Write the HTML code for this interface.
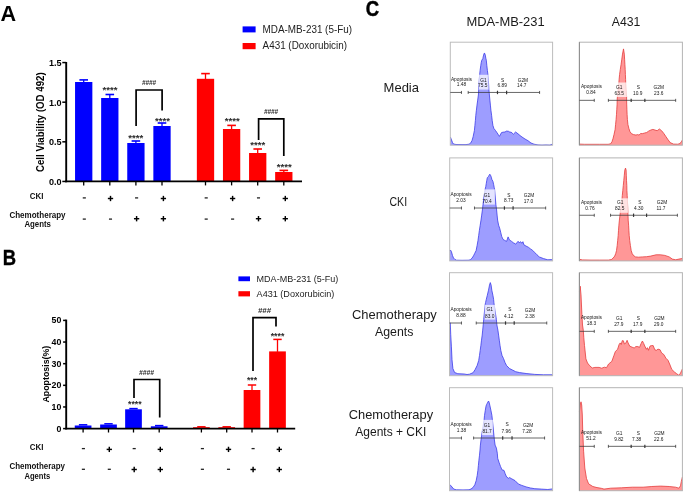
<!DOCTYPE html>
<html><head><meta charset="utf-8"><title>figure</title>
<style>
html,body{margin:0;padding:0;background:#fff;overflow:hidden;}
svg{display:block;will-change:transform;}
text{font-family:"Liberation Sans", sans-serif;}

</style></head>
<body>
<svg width="685" height="493" viewBox="0 0 685 493">
<rect x="0" y="0" width="685" height="493" fill="#fff"/><g class="g">
<text x="0.6" y="21.0" font-size="21.6" font-weight="bold" text-anchor="start" fill="#000">A</text>
<text transform="translate(2.8,264.8) scale(0.83,1)" font-size="22.2" font-weight="bold" stroke="#000" stroke-width="0.4">B</text>
<text transform="translate(365.7,16.35) scale(0.84,1)" font-size="22" font-weight="bold" stroke="#000" stroke-width="0.5">C</text>
<rect x="75.05" y="82.00" width="17.30" height="99.45" fill="#0000ff"/>
<line x1="83.7" y1="79.9" x2="83.7" y2="82.5" stroke="#0000ff" stroke-width="1.3"/>
<line x1="79.4" y1="79.9" x2="88.0" y2="79.9" stroke="#0000ff" stroke-width="1.6"/>
<rect x="101.15" y="98.00" width="17.30" height="83.45" fill="#0000ff"/>
<line x1="109.8" y1="94.5" x2="109.8" y2="98.5" stroke="#0000ff" stroke-width="1.3"/>
<line x1="105.5" y1="94.5" x2="114.1" y2="94.5" stroke="#0000ff" stroke-width="1.6"/>
<rect x="127.25" y="143.00" width="17.30" height="38.45" fill="#0000ff"/>
<line x1="135.9" y1="141.0" x2="135.9" y2="143.5" stroke="#0000ff" stroke-width="1.3"/>
<line x1="131.6" y1="141.0" x2="140.20000000000002" y2="141.0" stroke="#0000ff" stroke-width="1.6"/>
<rect x="153.35" y="126.00" width="17.30" height="55.45" fill="#0000ff"/>
<line x1="162.0" y1="123.0" x2="162.0" y2="126.5" stroke="#0000ff" stroke-width="1.3"/>
<line x1="157.7" y1="123.0" x2="166.3" y2="123.0" stroke="#0000ff" stroke-width="1.6"/>
<rect x="196.85" y="78.80" width="17.30" height="102.65" fill="#ff0000"/>
<line x1="205.5" y1="73.6" x2="205.5" y2="79.3" stroke="#ff0000" stroke-width="1.3"/>
<line x1="201.2" y1="73.6" x2="209.8" y2="73.6" stroke="#ff0000" stroke-width="1.6"/>
<rect x="222.95" y="129.00" width="17.30" height="52.45" fill="#ff0000"/>
<line x1="231.6" y1="125.4" x2="231.6" y2="129.5" stroke="#ff0000" stroke-width="1.3"/>
<line x1="227.29999999999998" y1="125.4" x2="235.9" y2="125.4" stroke="#ff0000" stroke-width="1.6"/>
<rect x="249.05" y="153.00" width="17.30" height="28.45" fill="#ff0000"/>
<line x1="257.7" y1="149.0" x2="257.7" y2="153.5" stroke="#ff0000" stroke-width="1.3"/>
<line x1="253.39999999999998" y1="149.0" x2="262.0" y2="149.0" stroke="#ff0000" stroke-width="1.6"/>
<rect x="275.15" y="172.00" width="17.30" height="9.45" fill="#ff0000"/>
<line x1="283.8" y1="170.4" x2="283.8" y2="172.5" stroke="#ff0000" stroke-width="1.3"/>
<line x1="279.5" y1="170.4" x2="288.1" y2="170.4" stroke="#ff0000" stroke-width="1.6"/>
<line x1="66.2" y1="62.0" x2="66.2" y2="182.25" stroke="#000" stroke-width="1.9"/>
<line x1="65.3" y1="181.45" x2="302" y2="181.45" stroke="#000" stroke-width="1.7"/>
<line x1="62.3" y1="181.45" x2="66.2" y2="181.45" stroke="#000" stroke-width="1.5"/>
<text x="61.6" y="184.75" font-size="9.6" font-weight="bold" text-anchor="end" fill="#000" textLength="12.6" lengthAdjust="spacingAndGlyphs">0.0</text>
<line x1="62.3" y1="141.82" x2="66.2" y2="141.82" stroke="#000" stroke-width="1.5"/>
<text x="61.6" y="145.12" font-size="9.6" font-weight="bold" text-anchor="end" fill="#000" textLength="12.6" lengthAdjust="spacingAndGlyphs">0.5</text>
<line x1="62.3" y1="102.2" x2="66.2" y2="102.2" stroke="#000" stroke-width="1.5"/>
<text x="61.6" y="105.5" font-size="9.6" font-weight="bold" text-anchor="end" fill="#000" textLength="12.6" lengthAdjust="spacingAndGlyphs">1.0</text>
<line x1="62.3" y1="62.57" x2="66.2" y2="62.57" stroke="#000" stroke-width="1.5"/>
<text x="61.6" y="65.87" font-size="9.6" font-weight="bold" text-anchor="end" fill="#000" textLength="12.6" lengthAdjust="spacingAndGlyphs">1.5</text>
<line x1="83.7" y1="181.45" x2="83.7" y2="185.4" stroke="#000" stroke-width="1.3"/>
<line x1="109.8" y1="181.45" x2="109.8" y2="185.4" stroke="#000" stroke-width="1.3"/>
<line x1="135.9" y1="181.45" x2="135.9" y2="185.4" stroke="#000" stroke-width="1.3"/>
<line x1="162.0" y1="181.45" x2="162.0" y2="185.4" stroke="#000" stroke-width="1.3"/>
<line x1="205.5" y1="181.45" x2="205.5" y2="185.4" stroke="#000" stroke-width="1.3"/>
<line x1="231.6" y1="181.45" x2="231.6" y2="185.4" stroke="#000" stroke-width="1.3"/>
<line x1="257.7" y1="181.45" x2="257.7" y2="185.4" stroke="#000" stroke-width="1.3"/>
<line x1="283.8" y1="181.45" x2="283.8" y2="185.4" stroke="#000" stroke-width="1.3"/>
<text transform="translate(43.9,172.0) rotate(-90)" font-size="10.2" font-weight="bold" textLength="99.6" lengthAdjust="spacingAndGlyphs">Cell Viability (OD 492)</text>
<text x="110.0" y="93.4" font-size="9.2" font-weight="bold" text-anchor="middle" fill="#2a2a2a" textLength="15.0" lengthAdjust="spacingAndGlyphs">****</text>
<text x="135.7" y="141.1" font-size="9.2" font-weight="bold" text-anchor="middle" fill="#2a2a2a" textLength="15.0" lengthAdjust="spacingAndGlyphs">****</text>
<text x="162.4" y="123.8" font-size="9.2" font-weight="bold" text-anchor="middle" fill="#2a2a2a" textLength="15.0" lengthAdjust="spacingAndGlyphs">****</text>
<text x="232.2" y="123.9" font-size="9.2" font-weight="bold" text-anchor="middle" fill="#2a2a2a" textLength="15.0" lengthAdjust="spacingAndGlyphs">****</text>
<text x="257.7" y="147.8" font-size="9.2" font-weight="bold" text-anchor="middle" fill="#2a2a2a" textLength="15.0" lengthAdjust="spacingAndGlyphs">****</text>
<text x="284.3" y="169.5" font-size="9.2" font-weight="bold" text-anchor="middle" fill="#2a2a2a" textLength="15.0" lengthAdjust="spacingAndGlyphs">****</text>
<path d="M136.1,126.0 L136.1,90.0 L162.1,90.0 L162.1,110.4" fill="none" stroke="#000" stroke-width="1.7"/>
<path d="M258.6,140.0 L258.6,118.8 L283.8,118.8 L283.8,156.0" fill="none" stroke="#000" stroke-width="1.7"/>
<text x="149.0" y="84.8" font-size="7.6" font-weight="bold" text-anchor="middle" fill="#2a2a2a" textLength="14.2" lengthAdjust="spacingAndGlyphs" font-style="italic">####</text>
<text x="271.0" y="114.3" font-size="7.6" font-weight="bold" text-anchor="middle" fill="#2a2a2a" textLength="14.2" lengthAdjust="spacingAndGlyphs" font-style="italic">####</text>
<rect x="242.60" y="26.40" width="13.00" height="6.00" fill="#0000ff"/>
<rect x="242.60" y="43.00" width="13.00" height="6.20" fill="#ff0000"/>
<text x="262.6" y="32.6" font-size="10.7" text-anchor="start" fill="#222" textLength="89.4" lengthAdjust="spacingAndGlyphs">MDA-MB-231 (5-Fu)</text>
<text x="262.6" y="49.2" font-size="10.7" text-anchor="start" fill="#222" textLength="84.4" lengthAdjust="spacingAndGlyphs">A431 (Doxorubicin)</text>
<text x="29.7" y="199.2" font-size="9.1" font-weight="bold" text-anchor="start" fill="#111" textLength="13.7" lengthAdjust="spacingAndGlyphs">CKI</text>
<text x="9.4" y="217.8" font-size="8.2" font-weight="bold" text-anchor="start" fill="#111" textLength="56.2" lengthAdjust="spacingAndGlyphs">Chemotherapy</text>
<text x="24.4" y="226.7" font-size="8.3" font-weight="bold" text-anchor="start" fill="#111" textLength="26.6" lengthAdjust="spacingAndGlyphs">Agents</text>
<line x1="82.75" y1="197.9" x2="85.85" y2="197.9" stroke="#222" stroke-width="1.3"/>
<line x1="82.75" y1="219.1" x2="85.85" y2="219.1" stroke="#222" stroke-width="1.3"/>
<line x1="107.85" y1="198.5" x2="113.15" y2="198.5" stroke="#000" stroke-width="1.45"/>
<line x1="110.5" y1="195.85" x2="110.5" y2="201.15" stroke="#000" stroke-width="1.45"/>
<line x1="108.95" y1="219.1" x2="112.05" y2="219.1" stroke="#222" stroke-width="1.3"/>
<line x1="135.05" y1="197.9" x2="138.15" y2="197.9" stroke="#222" stroke-width="1.3"/>
<line x1="133.95" y1="218.7" x2="139.25" y2="218.7" stroke="#000" stroke-width="1.45"/>
<line x1="136.6" y1="216.05" x2="136.6" y2="221.35" stroke="#000" stroke-width="1.45"/>
<line x1="160.75" y1="198.5" x2="166.05" y2="198.5" stroke="#000" stroke-width="1.45"/>
<line x1="163.4" y1="195.85" x2="163.4" y2="201.15" stroke="#000" stroke-width="1.45"/>
<line x1="160.75" y1="218.7" x2="166.05" y2="218.7" stroke="#000" stroke-width="1.45"/>
<line x1="163.4" y1="216.05" x2="163.4" y2="221.35" stroke="#000" stroke-width="1.45"/>
<line x1="204.65" y1="197.9" x2="207.75" y2="197.9" stroke="#222" stroke-width="1.3"/>
<line x1="204.65" y1="219.1" x2="207.75" y2="219.1" stroke="#222" stroke-width="1.3"/>
<line x1="229.95" y1="198.5" x2="235.25" y2="198.5" stroke="#000" stroke-width="1.45"/>
<line x1="232.6" y1="195.85" x2="232.6" y2="201.15" stroke="#000" stroke-width="1.45"/>
<line x1="231.05" y1="219.1" x2="234.15" y2="219.1" stroke="#222" stroke-width="1.3"/>
<line x1="256.95" y1="197.9" x2="260.05" y2="197.9" stroke="#222" stroke-width="1.3"/>
<line x1="255.85" y1="218.7" x2="261.15" y2="218.7" stroke="#000" stroke-width="1.45"/>
<line x1="258.5" y1="216.05" x2="258.5" y2="221.35" stroke="#000" stroke-width="1.45"/>
<line x1="282.65" y1="198.5" x2="287.95" y2="198.5" stroke="#000" stroke-width="1.45"/>
<line x1="285.3" y1="195.85" x2="285.3" y2="201.15" stroke="#000" stroke-width="1.45"/>
<line x1="282.65" y1="218.7" x2="287.95" y2="218.7" stroke="#000" stroke-width="1.45"/>
<line x1="285.3" y1="216.05" x2="285.3" y2="221.35" stroke="#000" stroke-width="1.45"/>
<rect x="74.75" y="425.50" width="16.70" height="3.10" fill="#0000ff"/>
<line x1="78.89999999999999" y1="424.8" x2="87.3" y2="424.8" stroke="#0000ff" stroke-width="1.5"/>
<rect x="100.15" y="424.50" width="16.70" height="4.10" fill="#0000ff"/>
<line x1="104.3" y1="423.8" x2="112.7" y2="423.8" stroke="#0000ff" stroke-width="1.5"/>
<rect x="125.15" y="409.30" width="16.70" height="19.30" fill="#0000ff"/>
<line x1="129.3" y1="408.6" x2="137.7" y2="408.6" stroke="#0000ff" stroke-width="1.5"/>
<rect x="150.85" y="426.30" width="16.70" height="2.30" fill="#0000ff"/>
<line x1="155.0" y1="425.6" x2="163.39999999999998" y2="425.6" stroke="#0000ff" stroke-width="1.5"/>
<rect x="193.05" y="427.20" width="16.70" height="1.40" fill="#ff0000"/>
<line x1="197.20000000000002" y1="426.8" x2="205.6" y2="426.8" stroke="#ff0000" stroke-width="1.5"/>
<rect x="218.35" y="427.20" width="16.70" height="1.40" fill="#ff0000"/>
<line x1="222.5" y1="426.8" x2="230.89999999999998" y2="426.8" stroke="#ff0000" stroke-width="1.5"/>
<rect x="243.65" y="390.00" width="16.70" height="38.60" fill="#ff0000"/>
<line x1="252.0" y1="385.0" x2="252.0" y2="390.5" stroke="#ff0000" stroke-width="1.3"/>
<line x1="247.8" y1="385.0" x2="256.2" y2="385.0" stroke="#ff0000" stroke-width="1.5"/>
<rect x="269.15" y="351.40" width="16.70" height="77.20" fill="#ff0000"/>
<line x1="277.5" y1="339.4" x2="277.5" y2="351.9" stroke="#ff0000" stroke-width="1.3"/>
<line x1="273.3" y1="339.4" x2="281.7" y2="339.4" stroke="#ff0000" stroke-width="1.5"/>
<line x1="66.2" y1="319.6" x2="66.2" y2="429.40000000000003" stroke="#000" stroke-width="1.9"/>
<line x1="65.3" y1="428.6" x2="295.2" y2="428.6" stroke="#000" stroke-width="1.7"/>
<line x1="63.1" y1="428.6" x2="66.2" y2="428.6" stroke="#000" stroke-width="1.5"/>
<text x="61.3" y="431.5" font-size="8.8" font-weight="bold" text-anchor="end" fill="#000">0</text>
<line x1="63.1" y1="406.96" x2="66.2" y2="406.96" stroke="#000" stroke-width="1.5"/>
<text x="61.3" y="409.86" font-size="8.8" font-weight="bold" text-anchor="end" fill="#000">10</text>
<line x1="63.1" y1="385.32" x2="66.2" y2="385.32" stroke="#000" stroke-width="1.5"/>
<text x="61.3" y="388.22" font-size="8.8" font-weight="bold" text-anchor="end" fill="#000">20</text>
<line x1="63.1" y1="363.68" x2="66.2" y2="363.68" stroke="#000" stroke-width="1.5"/>
<text x="61.3" y="366.58" font-size="8.8" font-weight="bold" text-anchor="end" fill="#000">30</text>
<line x1="63.1" y1="342.04" x2="66.2" y2="342.04" stroke="#000" stroke-width="1.5"/>
<text x="61.3" y="344.94" font-size="8.8" font-weight="bold" text-anchor="end" fill="#000">40</text>
<line x1="63.1" y1="320.4" x2="66.2" y2="320.4" stroke="#000" stroke-width="1.5"/>
<text x="61.3" y="323.3" font-size="8.8" font-weight="bold" text-anchor="end" fill="#000">50</text>
<line x1="83.1" y1="428.6" x2="83.1" y2="432.5" stroke="#000" stroke-width="1.3"/>
<line x1="108.5" y1="428.6" x2="108.5" y2="432.5" stroke="#000" stroke-width="1.3"/>
<line x1="133.5" y1="428.6" x2="133.5" y2="432.5" stroke="#000" stroke-width="1.3"/>
<line x1="159.2" y1="428.6" x2="159.2" y2="432.5" stroke="#000" stroke-width="1.3"/>
<line x1="201.4" y1="428.6" x2="201.4" y2="432.5" stroke="#000" stroke-width="1.3"/>
<line x1="226.7" y1="428.6" x2="226.7" y2="432.5" stroke="#000" stroke-width="1.3"/>
<line x1="252.0" y1="428.6" x2="252.0" y2="432.5" stroke="#000" stroke-width="1.3"/>
<line x1="277.5" y1="428.6" x2="277.5" y2="432.5" stroke="#000" stroke-width="1.3"/>
<text transform="translate(48.5,402.6) rotate(-90)" font-size="9.6" font-weight="bold" textLength="56.9" lengthAdjust="spacingAndGlyphs">Apoptosis(%)</text>
<text x="134.8" y="407.3" font-size="9.2" font-weight="bold" text-anchor="middle" fill="#2a2a2a" textLength="13.5" lengthAdjust="spacingAndGlyphs">****</text>
<text x="252.0" y="383.1" font-size="9.2" font-weight="bold" text-anchor="middle" fill="#2a2a2a" textLength="10.2" lengthAdjust="spacingAndGlyphs">***</text>
<text x="277.5" y="338.5" font-size="9.2" font-weight="bold" text-anchor="middle" fill="#2a2a2a" textLength="13.6" lengthAdjust="spacingAndGlyphs">****</text>
<path d="M134.0,398.0 L134.0,379.5 L159.7,379.5 L159.7,417.6" fill="none" stroke="#000" stroke-width="1.7"/>
<path d="M253.0,371.0 L253.0,317.6 L276.0,317.6 L276.0,326.6" fill="none" stroke="#000" stroke-width="1.7"/>
<text x="146.6" y="375.3" font-size="7.6" font-weight="bold" text-anchor="middle" fill="#2a2a2a" textLength="15.0" lengthAdjust="spacingAndGlyphs" font-style="italic">####</text>
<text x="264.5" y="312.6" font-size="7.6" font-weight="bold" text-anchor="middle" fill="#2a2a2a" textLength="13.0" lengthAdjust="spacingAndGlyphs" font-style="italic">###</text>
<rect x="238.40" y="276.40" width="11.60" height="4.80" fill="#0000ff"/>
<rect x="238.40" y="291.20" width="11.60" height="5.20" fill="#ff0000"/>
<text x="256.6" y="281.7" font-size="9.9" text-anchor="start" fill="#222" textLength="81.7" lengthAdjust="spacingAndGlyphs">MDA-MB-231 (5-Fu)</text>
<text x="256.6" y="296.8" font-size="9.9" text-anchor="start" fill="#222" textLength="77.8" lengthAdjust="spacingAndGlyphs">A431 (Doxorubicin)</text>
<text x="29.7" y="450.3" font-size="9.1" font-weight="bold" text-anchor="start" fill="#111" textLength="13.7" lengthAdjust="spacingAndGlyphs">CKI</text>
<text x="9.4" y="468.6" font-size="8.2" font-weight="bold" text-anchor="start" fill="#111" textLength="55.6" lengthAdjust="spacingAndGlyphs">Chemotherapy</text>
<text x="24.4" y="478.5" font-size="8.2" font-weight="bold" text-anchor="start" fill="#111" textLength="25.8" lengthAdjust="spacingAndGlyphs">Agents</text>
<line x1="81.85" y1="448.6" x2="84.95" y2="448.6" stroke="#222" stroke-width="1.3"/>
<line x1="81.85" y1="469.3" x2="84.95" y2="469.3" stroke="#222" stroke-width="1.3"/>
<line x1="106.65" y1="449.4" x2="111.95" y2="449.4" stroke="#000" stroke-width="1.45"/>
<line x1="109.3" y1="446.75" x2="109.3" y2="452.05" stroke="#000" stroke-width="1.45"/>
<line x1="107.75" y1="469.3" x2="110.85" y2="469.3" stroke="#222" stroke-width="1.3"/>
<line x1="132.65" y1="448.6" x2="135.75" y2="448.6" stroke="#222" stroke-width="1.3"/>
<line x1="131.55" y1="469.5" x2="136.85" y2="469.5" stroke="#000" stroke-width="1.45"/>
<line x1="134.2" y1="466.85" x2="134.2" y2="472.15" stroke="#000" stroke-width="1.45"/>
<line x1="157.65" y1="449.4" x2="162.95" y2="449.4" stroke="#000" stroke-width="1.45"/>
<line x1="160.3" y1="446.75" x2="160.3" y2="452.05" stroke="#000" stroke-width="1.45"/>
<line x1="157.65" y1="469.5" x2="162.95" y2="469.5" stroke="#000" stroke-width="1.45"/>
<line x1="160.3" y1="466.85" x2="160.3" y2="472.15" stroke="#000" stroke-width="1.45"/>
<line x1="200.85" y1="448.6" x2="203.95" y2="448.6" stroke="#222" stroke-width="1.3"/>
<line x1="200.85" y1="469.3" x2="203.95" y2="469.3" stroke="#222" stroke-width="1.3"/>
<line x1="225.85" y1="449.4" x2="231.15" y2="449.4" stroke="#000" stroke-width="1.45"/>
<line x1="228.5" y1="446.75" x2="228.5" y2="452.05" stroke="#000" stroke-width="1.45"/>
<line x1="226.95" y1="469.3" x2="230.05" y2="469.3" stroke="#222" stroke-width="1.3"/>
<line x1="251.55" y1="448.6" x2="254.65" y2="448.6" stroke="#222" stroke-width="1.3"/>
<line x1="250.45" y1="469.5" x2="255.75" y2="469.5" stroke="#000" stroke-width="1.45"/>
<line x1="253.1" y1="466.85" x2="253.1" y2="472.15" stroke="#000" stroke-width="1.45"/>
<line x1="276.65" y1="449.4" x2="281.95" y2="449.4" stroke="#000" stroke-width="1.45"/>
<line x1="279.3" y1="446.75" x2="279.3" y2="452.05" stroke="#000" stroke-width="1.45"/>
<line x1="276.65" y1="469.5" x2="281.95" y2="469.5" stroke="#000" stroke-width="1.45"/>
<line x1="279.3" y1="466.85" x2="279.3" y2="472.15" stroke="#000" stroke-width="1.45"/>
<text x="466.4" y="26.3" font-size="12.4" text-anchor="start" fill="#1a1a1a" textLength="78.3" lengthAdjust="spacingAndGlyphs">MDA-MB-231</text>
<text x="611.8" y="26.3" font-size="12.4" text-anchor="start" fill="#1a1a1a" textLength="28.6" lengthAdjust="spacingAndGlyphs">A431</text>
<text x="383.6" y="92.0" font-size="12.8" text-anchor="start" fill="#1a1a1a" textLength="35.4" lengthAdjust="spacingAndGlyphs">Media</text>
<text x="389.5" y="206.2" font-size="12.6" text-anchor="start" fill="#1a1a1a" textLength="17.6" lengthAdjust="spacingAndGlyphs">CKI</text>
<text x="352.0" y="319.2" font-size="12.8" text-anchor="start" fill="#1a1a1a" textLength="84.8" lengthAdjust="spacingAndGlyphs">Chemotherapy</text>
<text x="375.0" y="335.8" font-size="12.8" text-anchor="start" fill="#1a1a1a" textLength="38.4" lengthAdjust="spacingAndGlyphs">Agents</text>
<text x="348.8" y="419.3" font-size="12.8" text-anchor="start" fill="#1a1a1a" textLength="84.3" lengthAdjust="spacingAndGlyphs">Chemotherapy</text>
<text x="355.3" y="436.1" font-size="12.8" text-anchor="start" fill="#1a1a1a" textLength="71.1" lengthAdjust="spacingAndGlyphs">Agents + CKI</text>
<path d="M450.30,145.20 L450.40,137.00 L451.50,140.00 L452.50,142.50 L453.50,144.00 L456.00,144.50 L462.00,144.60 L466.00,144.60 L469.00,144.20 L470.60,143.20 L472.10,140.40 L473.20,136.40 L474.40,130.50 L474.90,125.40 L475.40,120.40 L475.80,115.30 L476.40,110.20 L477.00,105.10 L477.70,100.10 L478.40,95.00 L478.70,89.60 L479.20,80.50 L479.70,74.40 L480.10,70.40 L480.80,65.30 L481.30,62.20 L481.80,60.20 L482.80,58.70 L483.10,57.20 L483.60,55.10 L484.30,53.10 L484.50,53.10 L485.30,55.10 L485.80,58.20 L486.30,60.20 L486.80,65.30 L487.40,70.40 L487.90,74.40 L488.40,80.50 L488.90,89.60 L489.40,95.00 L489.90,100.10 L490.40,105.10 L490.90,110.20 L491.60,115.30 L492.20,120.40 L492.90,125.40 L493.90,128.50 L495.50,130.50 L498.00,134.20 L499.40,136.40 L501.50,132.60 L503.00,132.20 L505.00,132.00 L506.50,131.10 L508.50,131.30 L510.00,132.30 L511.00,132.00 L513.40,134.20 L515.60,132.00 L518.00,133.80 L520.00,135.50 L522.00,137.00 L525.00,139.00 L528.00,140.70 L531.00,143.00 L534.00,144.20 L538.00,144.90 L542.00,145.10 L546.00,144.90 L550.00,145.10 L552.60,144.00 L552.60,145.20 Z" fill="#9d9dff" stroke="none"/>
<path d="M450.40,137.00 L451.50,140.00 L452.50,142.50 L453.50,144.00 L456.00,144.50 L462.00,144.60 L466.00,144.60 L469.00,144.20 L470.60,143.20 L472.10,140.40 L473.20,136.40 L474.40,130.50 L474.90,125.40 L475.40,120.40 L475.80,115.30 L476.40,110.20 L477.00,105.10 L477.70,100.10 L478.40,95.00 L478.70,89.60 L479.20,80.50 L479.70,74.40 L480.10,70.40 L480.80,65.30 L481.30,62.20 L481.80,60.20 L482.80,58.70 L483.10,57.20 L483.60,55.10 L484.30,53.10 L484.50,53.10 L485.30,55.10 L485.80,58.20 L486.30,60.20 L486.80,65.30 L487.40,70.40 L487.90,74.40 L488.40,80.50 L488.90,89.60 L489.40,95.00 L489.90,100.10 L490.40,105.10 L490.90,110.20 L491.60,115.30 L492.20,120.40 L492.90,125.40 L493.90,128.50 L495.50,130.50 L498.00,134.20 L499.40,136.40 L501.50,132.60 L503.00,132.20 L505.00,132.00 L506.50,131.10 L508.50,131.30 L510.00,132.30 L511.00,132.00 L513.40,134.20 L515.60,132.00 L518.00,133.80 L520.00,135.50 L522.00,137.00 L525.00,139.00 L528.00,140.70 L531.00,143.00 L534.00,144.20 L538.00,144.90 L542.00,145.10 L546.00,144.90 L550.00,145.10 L552.60,144.00" fill="none" stroke="#3c3ce8" stroke-width="0.8" stroke-linejoin="round"/>
<rect x="450.30" y="42.20" width="102.30" height="103.00" fill="none" stroke="#bcbcbc" stroke-width="1"/>
<rect x="478.80" y="74.80" width="9.80" height="14.80" fill="#fff" fill-opacity="0.72"/>
<line x1="450.30" y1="92.44" x2="461.46" y2="92.44" stroke="#363636" stroke-width="0.75"/>
<line x1="461.46" y1="90.94" x2="461.46" y2="93.94" stroke="#363636" stroke-width="0.8"/>
<line x1="468.18" y1="92.44" x2="539.59" y2="92.44" stroke="#363636" stroke-width="0.75"/>
<line x1="468.18" y1="90.94" x2="468.18" y2="93.94" stroke="#363636" stroke-width="0.8"/>
<line x1="497.48" y1="90.74" x2="497.48" y2="94.14" stroke="#363636" stroke-width="1.2"/>
<line x1="506.60" y1="90.74" x2="506.60" y2="94.14" stroke="#363636" stroke-width="1.2"/>
<line x1="539.59" y1="90.94" x2="539.59" y2="93.94" stroke="#363636" stroke-width="0.8"/>
<text x="461.46" y="80.70" font-size="4.8" text-anchor="middle" fill="#151515">Apoptosis</text>
<text x="461.46" y="86.13" font-size="4.8" text-anchor="middle" fill="#151515">1.48</text>
<text x="483.38" y="81.57" font-size="4.8" text-anchor="middle" fill="#151515">G1</text>
<text x="482.73" y="87.21" font-size="4.8" text-anchor="middle" fill="#151515">75.5</text>
<text x="502.69" y="81.57" font-size="4.8" text-anchor="middle" fill="#151515">S</text>
<text x="502.26" y="87.21" font-size="4.8" text-anchor="middle" fill="#151515">6.89</text>
<text x="522.88" y="82.00" font-size="4.8" text-anchor="middle" fill="#151515">G2M</text>
<text x="521.79" y="87.21" font-size="4.8" text-anchor="middle" fill="#151515">14.7</text>
<path d="M449.70,260.90 L449.70,251.00 L450.50,250.00 L451.50,252.00 L452.50,255.50 L453.50,258.00 L455.00,259.50 L456.50,260.20 L462.00,260.30 L469.00,260.20 L470.50,259.60 L472.00,258.20 L473.50,255.80 L474.60,253.60 L476.10,250.60 L477.10,245.50 L478.00,240.40 L478.70,235.40 L479.40,230.30 L480.20,225.20 L481.00,220.10 L481.70,215.10 L482.40,210.00 L483.00,204.60 L483.60,199.60 L484.30,194.60 L485.10,189.40 L485.80,186.40 L486.30,183.30 L486.80,180.30 L487.30,177.70 L488.30,176.70 L489.80,174.20 L490.50,175.20 L491.30,177.20 L491.80,179.30 L492.90,181.30 L493.60,184.30 L494.20,187.40 L494.60,189.40 L495.90,204.60 L496.60,210.00 L497.10,215.10 L497.60,220.10 L498.60,225.20 L499.70,228.30 L500.70,232.30 L501.70,236.40 L503.00,239.40 L504.70,240.40 L506.60,241.40 L508.10,236.90 L509.40,239.90 L511.60,241.40 L513.70,243.00 L515.70,244.00 L517.00,242.80 L518.10,241.30 L519.20,242.80 L520.70,241.70 L521.80,243.30 L522.90,241.70 L524.00,245.00 L526.10,246.10 L528.30,247.20 L530.50,248.90 L532.70,250.40 L534.80,252.60 L537.00,254.80 L539.20,256.90 L543.50,258.60 L547.80,259.80 L551.50,259.60 L552.60,258.60 L552.60,260.90 Z" fill="#9d9dff" stroke="none"/>
<path d="M449.70,251.00 L450.50,250.00 L451.50,252.00 L452.50,255.50 L453.50,258.00 L455.00,259.50 L456.50,260.20 L462.00,260.30 L469.00,260.20 L470.50,259.60 L472.00,258.20 L473.50,255.80 L474.60,253.60 L476.10,250.60 L477.10,245.50 L478.00,240.40 L478.70,235.40 L479.40,230.30 L480.20,225.20 L481.00,220.10 L481.70,215.10 L482.40,210.00 L483.00,204.60 L483.60,199.60 L484.30,194.60 L485.10,189.40 L485.80,186.40 L486.30,183.30 L486.80,180.30 L487.30,177.70 L488.30,176.70 L489.80,174.20 L490.50,175.20 L491.30,177.20 L491.80,179.30 L492.90,181.30 L493.60,184.30 L494.20,187.40 L494.60,189.40 L495.90,204.60 L496.60,210.00 L497.10,215.10 L497.60,220.10 L498.60,225.20 L499.70,228.30 L500.70,232.30 L501.70,236.40 L503.00,239.40 L504.70,240.40 L506.60,241.40 L508.10,236.90 L509.40,239.90 L511.60,241.40 L513.70,243.00 L515.70,244.00 L517.00,242.80 L518.10,241.30 L519.20,242.80 L520.70,241.70 L521.80,243.30 L522.90,241.70 L524.00,245.00 L526.10,246.10 L528.30,247.20 L530.50,248.90 L532.70,250.40 L534.80,252.60 L537.00,254.80 L539.20,256.90 L543.50,258.60 L547.80,259.80 L551.50,259.60 L552.60,258.60" fill="none" stroke="#3c3ce8" stroke-width="0.8" stroke-linejoin="round"/>
<rect x="449.70" y="157.90" width="102.90" height="103.00" fill="none" stroke="#bcbcbc" stroke-width="1"/>
<rect x="484.00" y="189.40" width="10.90" height="15.20" fill="#fff" fill-opacity="0.72"/>
<line x1="449.70" y1="208.01" x2="461.46" y2="208.01" stroke="#363636" stroke-width="0.75"/>
<line x1="461.46" y1="206.51" x2="461.46" y2="209.51" stroke="#363636" stroke-width="0.8"/>
<line x1="474.48" y1="208.01" x2="545.67" y2="208.01" stroke="#363636" stroke-width="0.75"/>
<line x1="474.48" y1="206.51" x2="474.48" y2="209.51" stroke="#363636" stroke-width="0.8"/>
<line x1="504.43" y1="206.31" x2="504.43" y2="209.71" stroke="#363636" stroke-width="1.2"/>
<line x1="513.11" y1="206.31" x2="513.11" y2="209.71" stroke="#363636" stroke-width="1.2"/>
<line x1="545.67" y1="206.51" x2="545.67" y2="209.51" stroke="#363636" stroke-width="0.8"/>
<text x="461.02" y="196.27" font-size="4.8" text-anchor="middle" fill="#151515">Apoptosis</text>
<text x="461.02" y="201.69" font-size="4.8" text-anchor="middle" fill="#151515">2.03</text>
<text x="487.07" y="196.92" font-size="4.8" text-anchor="middle" fill="#151515">G1</text>
<text x="487.07" y="202.78" font-size="4.8" text-anchor="middle" fill="#151515">70.4</text>
<text x="508.77" y="196.92" font-size="4.8" text-anchor="middle" fill="#151515">S</text>
<text x="508.77" y="202.34" font-size="4.8" text-anchor="middle" fill="#151515">8.73</text>
<text x="528.96" y="197.35" font-size="4.8" text-anchor="middle" fill="#151515">G2M</text>
<text x="528.52" y="202.78" font-size="4.8" text-anchor="middle" fill="#151515">17.0</text>
<path d="M449.50,375.70 L450.30,322.70 L450.70,334.20 L451.40,346.90 L452.00,359.70 L452.90,368.60 L454.60,372.50 L457.80,373.70 L464.20,374.00 L467.00,374.50 L469.50,374.20 L473.10,372.70 L475.10,369.60 L477.10,365.60 L478.70,360.50 L479.50,355.40 L480.20,350.40 L480.90,345.30 L481.50,340.20 L482.20,335.10 L482.70,330.10 L483.20,325.00 L483.70,319.60 L485.10,304.90 L485.60,302.40 L486.30,299.30 L487.30,295.30 L488.50,290.20 L489.50,285.10 L490.30,282.60 L491.10,285.10 L491.80,290.20 L492.90,295.30 L493.60,299.30 L493.90,302.40 L494.20,304.90 L496.40,319.60 L496.90,325.00 L497.90,330.10 L498.60,335.10 L499.30,340.20 L500.00,345.30 L500.80,350.40 L502.00,355.40 L503.50,358.50 L505.00,362.50 L506.60,365.60 L509.60,368.60 L512.60,370.10 L515.70,371.70 L519.60,372.60 L526.10,373.50 L534.80,374.40 L543.50,374.80 L552.60,374.80 L552.60,375.70 Z" fill="#9d9dff" stroke="none"/>
<path d="M450.30,322.70 L450.70,334.20 L451.40,346.90 L452.00,359.70 L452.90,368.60 L454.60,372.50 L457.80,373.70 L464.20,374.00 L467.00,374.50 L469.50,374.20 L473.10,372.70 L475.10,369.60 L477.10,365.60 L478.70,360.50 L479.50,355.40 L480.20,350.40 L480.90,345.30 L481.50,340.20 L482.20,335.10 L482.70,330.10 L483.20,325.00 L483.70,319.60 L485.10,304.90 L485.60,302.40 L486.30,299.30 L487.30,295.30 L488.50,290.20 L489.50,285.10 L490.30,282.60 L491.10,285.10 L491.80,290.20 L492.90,295.30 L493.60,299.30 L493.90,302.40 L494.20,304.90 L496.40,319.60 L496.90,325.00 L497.90,330.10 L498.60,335.10 L499.30,340.20 L500.00,345.30 L500.80,350.40 L502.00,355.40 L503.50,358.50 L505.00,362.50 L506.60,365.60 L509.60,368.60 L512.60,370.10 L515.70,371.70 L519.60,372.60 L526.10,373.50 L534.80,374.40 L543.50,374.80 L552.60,374.80" fill="none" stroke="#3c3ce8" stroke-width="0.8" stroke-linejoin="round"/>
<rect x="449.50" y="272.70" width="103.10" height="103.00" fill="none" stroke="#bcbcbc" stroke-width="1"/>
<rect x="484.70" y="304.90" width="10.70" height="14.70" fill="#fff" fill-opacity="0.72"/>
<line x1="449.50" y1="323.01" x2="461.46" y2="323.01" stroke="#363636" stroke-width="0.75"/>
<line x1="461.46" y1="321.51" x2="461.46" y2="324.51" stroke="#363636" stroke-width="0.8"/>
<line x1="476.22" y1="323.01" x2="546.75" y2="323.01" stroke="#363636" stroke-width="0.75"/>
<line x1="476.22" y1="321.51" x2="476.22" y2="324.51" stroke="#363636" stroke-width="0.8"/>
<line x1="505.52" y1="321.31" x2="505.52" y2="324.71" stroke="#363636" stroke-width="1.2"/>
<line x1="514.20" y1="321.31" x2="514.20" y2="324.71" stroke="#363636" stroke-width="1.2"/>
<line x1="546.75" y1="321.51" x2="546.75" y2="324.51" stroke="#363636" stroke-width="0.8"/>
<text x="461.02" y="311.27" font-size="4.8" text-anchor="middle" fill="#151515">Apoptosis</text>
<text x="461.02" y="316.69" font-size="4.8" text-anchor="middle" fill="#151515">8.88</text>
<text x="489.67" y="311.27" font-size="4.8" text-anchor="middle" fill="#151515">G1</text>
<text x="489.67" y="317.78" font-size="4.8" text-anchor="middle" fill="#151515">83.0</text>
<text x="509.86" y="311.27" font-size="4.8" text-anchor="middle" fill="#151515">S</text>
<text x="508.77" y="317.78" font-size="4.8" text-anchor="middle" fill="#151515">4.12</text>
<text x="530.04" y="311.92" font-size="4.8" text-anchor="middle" fill="#151515">G2M</text>
<text x="530.04" y="317.78" font-size="4.8" text-anchor="middle" fill="#151515">2.38</text>
<path d="M449.50,490.70 L449.60,486.00 L450.50,485.20 L452.00,487.00 L453.50,488.80 L455.00,489.50 L456.50,489.80 L463.00,489.90 L469.00,489.80 L471.00,489.00 L473.00,487.50 L474.80,484.80 L476.20,480.60 L477.20,475.50 L477.90,470.40 L478.40,465.40 L478.90,460.30 L479.50,455.20 L480.00,450.10 L480.40,445.10 L481.00,440.00 L481.70,435.10 L484.10,419.90 L484.50,415.40 L485.30,410.30 L486.00,406.20 L486.50,404.70 L487.30,403.20 L488.50,401.00 L489.10,402.20 L489.80,405.20 L490.90,410.30 L491.90,415.40 L492.40,419.90 L493.90,435.10 L494.40,440.00 L495.10,445.10 L496.40,448.10 L497.30,453.20 L497.70,458.30 L499.00,462.30 L500.50,466.40 L502.00,469.90 L504.00,470.40 L505.10,473.50 L506.60,477.00 L508.60,478.30 L509.60,477.50 L511.10,478.50 L513.20,479.60 L515.00,480.60 L518.50,484.10 L521.80,485.40 L526.10,486.90 L530.50,488.00 L534.80,488.70 L541.30,489.10 L547.80,489.50 L552.60,488.90 L552.60,490.70 Z" fill="#9d9dff" stroke="none"/>
<path d="M449.60,486.00 L450.50,485.20 L452.00,487.00 L453.50,488.80 L455.00,489.50 L456.50,489.80 L463.00,489.90 L469.00,489.80 L471.00,489.00 L473.00,487.50 L474.80,484.80 L476.20,480.60 L477.20,475.50 L477.90,470.40 L478.40,465.40 L478.90,460.30 L479.50,455.20 L480.00,450.10 L480.40,445.10 L481.00,440.00 L481.70,435.10 L484.10,419.90 L484.50,415.40 L485.30,410.30 L486.00,406.20 L486.50,404.70 L487.30,403.20 L488.50,401.00 L489.10,402.20 L489.80,405.20 L490.90,410.30 L491.90,415.40 L492.40,419.90 L493.90,435.10 L494.40,440.00 L495.10,445.10 L496.40,448.10 L497.30,453.20 L497.70,458.30 L499.00,462.30 L500.50,466.40 L502.00,469.90 L504.00,470.40 L505.10,473.50 L506.60,477.00 L508.60,478.30 L509.60,477.50 L511.10,478.50 L513.20,479.60 L515.00,480.60 L518.50,484.10 L521.80,485.40 L526.10,486.90 L530.50,488.00 L534.80,488.70 L541.30,489.10 L547.80,489.50 L552.60,488.90" fill="none" stroke="#3c3ce8" stroke-width="0.8" stroke-linejoin="round"/>
<rect x="449.50" y="387.70" width="103.10" height="103.00" fill="none" stroke="#bcbcbc" stroke-width="1"/>
<rect x="482.00" y="419.90" width="10.90" height="15.20" fill="#fff" fill-opacity="0.72"/>
<line x1="449.50" y1="438.01" x2="461.46" y2="438.01" stroke="#363636" stroke-width="0.75"/>
<line x1="461.46" y1="436.51" x2="461.46" y2="439.51" stroke="#363636" stroke-width="0.8"/>
<line x1="473.61" y1="438.01" x2="544.58" y2="438.01" stroke="#363636" stroke-width="0.75"/>
<line x1="473.61" y1="436.51" x2="473.61" y2="439.51" stroke="#363636" stroke-width="0.8"/>
<line x1="502.69" y1="436.31" x2="502.69" y2="439.71" stroke="#363636" stroke-width="1.2"/>
<line x1="512.03" y1="436.31" x2="512.03" y2="439.71" stroke="#363636" stroke-width="1.2"/>
<line x1="544.58" y1="436.51" x2="544.58" y2="439.51" stroke="#363636" stroke-width="0.8"/>
<text x="461.02" y="426.27" font-size="4.8" text-anchor="middle" fill="#151515">Apoptosis</text>
<text x="461.46" y="431.69" font-size="4.8" text-anchor="middle" fill="#151515">1.38</text>
<text x="487.07" y="426.92" font-size="4.8" text-anchor="middle" fill="#151515">G1</text>
<text x="487.07" y="432.78" font-size="4.8" text-anchor="middle" fill="#151515">81.7</text>
<text x="507.03" y="426.27" font-size="4.8" text-anchor="middle" fill="#151515">S</text>
<text x="506.17" y="432.78" font-size="4.8" text-anchor="middle" fill="#151515">7.96</text>
<text x="528.09" y="427.35" font-size="4.8" text-anchor="middle" fill="#151515">G2M</text>
<text x="527.00" y="432.78" font-size="4.8" text-anchor="middle" fill="#151515">7.28</text>
<path d="M579.40,145.20 L579.40,144.10 L584.50,144.30 L591.00,144.30 L599.70,144.30 L608.10,144.30 L610.60,143.80 L612.00,141.70 L613.00,138.60 L614.00,134.60 L615.10,129.50 L615.60,124.40 L616.10,119.40 L616.50,114.30 L616.80,109.20 L617.10,104.10 L617.20,99.10 L617.40,97.00 L618.90,82.30 L619.10,79.50 L619.60,74.40 L620.30,69.40 L621.10,64.30 L621.80,59.20 L622.50,54.10 L623.50,48.90 L624.30,54.10 L624.60,59.20 L624.90,64.30 L625.20,69.40 L625.40,74.40 L625.60,79.50 L625.70,82.30 L626.60,97.00 L626.60,99.10 L626.70,104.10 L626.90,109.20 L627.10,114.30 L627.40,119.40 L627.90,124.40 L628.90,128.50 L629.90,131.50 L631.40,133.60 L633.50,134.60 L636.00,135.10 L637.50,134.60 L639.00,135.10 L640.60,133.60 L642.60,133.60 L644.60,133.00 L646.70,132.50 L648.50,131.20 L650.70,130.10 L652.90,129.40 L655.10,130.10 L657.20,130.70 L659.40,129.00 L661.60,130.70 L663.70,133.30 L665.90,136.60 L668.10,139.80 L670.20,142.60 L673.50,144.10 L677.80,144.20 L680.00,143.60 L681.70,141.20 L682.40,140.00 L682.40,145.20 Z" fill="#ff9797" stroke="none"/>
<path d="M579.40,144.10 L584.50,144.30 L591.00,144.30 L599.70,144.30 L608.10,144.30 L610.60,143.80 L612.00,141.70 L613.00,138.60 L614.00,134.60 L615.10,129.50 L615.60,124.40 L616.10,119.40 L616.50,114.30 L616.80,109.20 L617.10,104.10 L617.20,99.10 L617.40,97.00 L618.90,82.30 L619.10,79.50 L619.60,74.40 L620.30,69.40 L621.10,64.30 L621.80,59.20 L622.50,54.10 L623.50,48.90 L624.30,54.10 L624.60,59.20 L624.90,64.30 L625.20,69.40 L625.40,74.40 L625.60,79.50 L625.70,82.30 L626.60,97.00 L626.60,99.10 L626.70,104.10 L626.90,109.20 L627.10,114.30 L627.40,119.40 L627.90,124.40 L628.90,128.50 L629.90,131.50 L631.40,133.60 L633.50,134.60 L636.00,135.10 L637.50,134.60 L639.00,135.10 L640.60,133.60 L642.60,133.60 L644.60,133.00 L646.70,132.50 L648.50,131.20 L650.70,130.10 L652.90,129.40 L655.10,130.10 L657.20,130.70 L659.40,129.00 L661.60,130.70 L663.70,133.30 L665.90,136.60 L668.10,139.80 L670.20,142.60 L673.50,144.10 L677.80,144.20 L680.00,143.60 L681.70,141.20 L682.40,140.00" fill="none" stroke="#e43c3c" stroke-width="0.8" stroke-linejoin="round"/>
<rect x="579.40" y="42.20" width="103.00" height="103.00" fill="none" stroke="#b4b4b4" stroke-width="1"/>
<line x1="579.40" y1="42.20" x2="579.40" y2="145.20" stroke="#8c8c8c" stroke-width="1"/>
<rect x="616.80" y="82.50" width="10.20" height="14.50" fill="#fff" fill-opacity="0.72"/>
<line x1="579.40" y1="100.34" x2="594.28" y2="100.34" stroke="#363636" stroke-width="0.75"/>
<line x1="594.28" y1="98.84" x2="594.28" y2="101.84" stroke="#363636" stroke-width="0.8"/>
<line x1="608.39" y1="100.34" x2="675.67" y2="100.34" stroke="#363636" stroke-width="0.75"/>
<line x1="608.39" y1="98.84" x2="608.39" y2="101.84" stroke="#363636" stroke-width="0.8"/>
<line x1="631.17" y1="98.64" x2="631.17" y2="102.04" stroke="#363636" stroke-width="1.2"/>
<line x1="644.85" y1="98.64" x2="644.85" y2="102.04" stroke="#363636" stroke-width="1.2"/>
<line x1="675.67" y1="98.84" x2="675.67" y2="101.84" stroke="#363636" stroke-width="0.8"/>
<text x="591.46" y="88.30" font-size="4.8" text-anchor="middle" fill="#151515">Apoptosis</text>
<text x="591.02" y="94.37" font-size="4.8" text-anchor="middle" fill="#151515">0.84</text>
<text x="619.24" y="88.73" font-size="4.8" text-anchor="middle" fill="#151515">G1</text>
<text x="619.24" y="94.59" font-size="4.8" text-anchor="middle" fill="#151515">63.5</text>
<text x="638.34" y="88.73" font-size="4.8" text-anchor="middle" fill="#151515">S</text>
<text x="637.69" y="94.59" font-size="4.8" text-anchor="middle" fill="#151515">10.9</text>
<text x="658.74" y="88.73" font-size="4.8" text-anchor="middle" fill="#151515">G2M</text>
<text x="658.74" y="94.59" font-size="4.8" text-anchor="middle" fill="#151515">23.6</text>
<path d="M579.40,260.90 L579.40,259.30 L582.30,259.90 L591.00,260.10 L599.70,260.10 L608.40,260.10 L611.30,259.60 L613.20,258.00 L614.70,256.10 L615.70,253.60 L616.50,250.60 L617.20,245.50 L617.70,240.40 L618.20,235.40 L618.50,230.30 L618.90,225.20 L619.40,220.10 L620.00,215.10 L620.30,212.50 L622.10,198.00 L622.30,195.50 L622.80,190.40 L623.30,185.40 L623.80,180.30 L624.30,175.20 L624.80,170.10 L625.50,168.10 L626.10,170.10 L626.30,175.20 L626.50,180.30 L626.80,185.40 L626.90,190.40 L627.20,195.50 L627.30,198.00 L627.90,212.50 L628.00,215.10 L628.20,220.10 L628.60,225.20 L628.90,230.30 L629.20,235.40 L629.70,240.40 L630.40,245.50 L631.20,250.60 L632.20,253.60 L633.60,255.60 L635.50,256.90 L638.50,257.20 L642.60,256.90 L646.60,256.70 L650.70,256.10 L656.10,254.80 L660.50,254.80 L664.80,255.40 L669.20,256.90 L672.40,259.10 L675.70,259.80 L678.90,259.10 L682.40,258.50 L682.40,260.90 Z" fill="#ff9797" stroke="none"/>
<path d="M579.40,259.30 L582.30,259.90 L591.00,260.10 L599.70,260.10 L608.40,260.10 L611.30,259.60 L613.20,258.00 L614.70,256.10 L615.70,253.60 L616.50,250.60 L617.20,245.50 L617.70,240.40 L618.20,235.40 L618.50,230.30 L618.90,225.20 L619.40,220.10 L620.00,215.10 L620.30,212.50 L622.10,198.00 L622.30,195.50 L622.80,190.40 L623.30,185.40 L623.80,180.30 L624.30,175.20 L624.80,170.10 L625.50,168.10 L626.10,170.10 L626.30,175.20 L626.50,180.30 L626.80,185.40 L626.90,190.40 L627.20,195.50 L627.30,198.00 L627.90,212.50 L628.00,215.10 L628.20,220.10 L628.60,225.20 L628.90,230.30 L629.20,235.40 L629.70,240.40 L630.40,245.50 L631.20,250.60 L632.20,253.60 L633.60,255.60 L635.50,256.90 L638.50,257.20 L642.60,256.90 L646.60,256.70 L650.70,256.10 L656.10,254.80 L660.50,254.80 L664.80,255.40 L669.20,256.90 L672.40,259.10 L675.70,259.80 L678.90,259.10 L682.40,258.50" fill="none" stroke="#e43c3c" stroke-width="0.8" stroke-linejoin="round"/>
<rect x="579.40" y="157.90" width="103.00" height="103.00" fill="none" stroke="#b4b4b4" stroke-width="1"/>
<line x1="579.40" y1="157.90" x2="579.40" y2="260.90" stroke="#8c8c8c" stroke-width="1"/>
<rect x="619.20" y="198.30" width="8.80" height="14.50" fill="#fff" fill-opacity="0.72"/>
<line x1="579.40" y1="215.25" x2="594.28" y2="215.25" stroke="#363636" stroke-width="0.75"/>
<line x1="594.28" y1="213.75" x2="594.28" y2="216.75" stroke="#363636" stroke-width="0.8"/>
<line x1="610.56" y1="215.25" x2="677.40" y2="215.25" stroke="#363636" stroke-width="0.75"/>
<line x1="610.56" y1="213.75" x2="610.56" y2="216.75" stroke="#363636" stroke-width="0.8"/>
<line x1="633.56" y1="213.55" x2="633.56" y2="216.95" stroke="#363636" stroke-width="1.2"/>
<line x1="646.58" y1="213.55" x2="646.58" y2="216.95" stroke="#363636" stroke-width="1.2"/>
<line x1="677.40" y1="213.75" x2="677.40" y2="216.75" stroke="#363636" stroke-width="0.8"/>
<text x="591.46" y="203.86" font-size="4.8" text-anchor="middle" fill="#151515">Apoptosis</text>
<text x="589.94" y="209.94" font-size="4.8" text-anchor="middle" fill="#151515">0.76</text>
<text x="620.32" y="204.30" font-size="4.8" text-anchor="middle" fill="#151515">G1</text>
<text x="619.67" y="210.37" font-size="4.8" text-anchor="middle" fill="#151515">82.5</text>
<text x="639.86" y="204.30" font-size="4.8" text-anchor="middle" fill="#151515">S</text>
<text x="638.77" y="210.37" font-size="4.8" text-anchor="middle" fill="#151515">4.30</text>
<text x="661.99" y="204.30" font-size="4.8" text-anchor="middle" fill="#151515">G2M</text>
<text x="660.91" y="210.37" font-size="4.8" text-anchor="middle" fill="#151515">11.7</text>
<path d="M579.40,375.70 L579.40,292.00 L580.20,286.20 L581.00,294.90 L581.90,314.40 L582.50,325.00 L583.30,330.30 L583.80,337.70 L584.50,345.50 L585.90,358.80 L587.50,363.00 L589.60,365.60 L592.20,368.00 L594.90,367.40 L599.10,367.40 L601.70,368.20 L604.40,367.20 L606.50,367.70 L608.60,364.00 L611.80,361.40 L613.90,355.60 L615.40,351.40 L617.60,349.30 L619.10,344.50 L620.20,342.90 L621.20,344.50 L622.30,340.60 L623.40,340.80 L624.40,344.00 L626.00,342.90 L627.10,340.30 L628.10,342.90 L629.70,346.10 L632.10,347.20 L634.20,348.00 L635.80,346.60 L637.90,346.60 L639.50,347.40 L641.10,343.50 L642.40,341.00 L643.70,343.50 L644.80,346.10 L646.40,349.30 L647.40,347.70 L648.50,350.30 L650.00,346.10 L651.60,345.60 L653.20,345.60 L654.80,349.80 L656.40,350.30 L658.00,349.10 L660.10,349.80 L661.60,353.00 L663.80,354.50 L665.90,358.20 L668.00,360.30 L670.10,365.10 L671.70,369.30 L674.30,371.90 L676.40,373.50 L678.50,375.10 L680.40,373.50 L681.70,370.40 L682.40,369.00 L682.40,375.70 Z" fill="#ff9797" stroke="none"/>
<path d="M579.40,292.00 L580.20,286.20 L581.00,294.90 L581.90,314.40 L582.50,325.00 L583.30,330.30 L583.80,337.70 L584.50,345.50 L585.90,358.80 L587.50,363.00 L589.60,365.60 L592.20,368.00 L594.90,367.40 L599.10,367.40 L601.70,368.20 L604.40,367.20 L606.50,367.70 L608.60,364.00 L611.80,361.40 L613.90,355.60 L615.40,351.40 L617.60,349.30 L619.10,344.50 L620.20,342.90 L621.20,344.50 L622.30,340.60 L623.40,340.80 L624.40,344.00 L626.00,342.90 L627.10,340.30 L628.10,342.90 L629.70,346.10 L632.10,347.20 L634.20,348.00 L635.80,346.60 L637.90,346.60 L639.50,347.40 L641.10,343.50 L642.40,341.00 L643.70,343.50 L644.80,346.10 L646.40,349.30 L647.40,347.70 L648.50,350.30 L650.00,346.10 L651.60,345.60 L653.20,345.60 L654.80,349.80 L656.40,350.30 L658.00,349.10 L660.10,349.80 L661.60,353.00 L663.80,354.50 L665.90,358.20 L668.00,360.30 L670.10,365.10 L671.70,369.30 L674.30,371.90 L676.40,373.50 L678.50,375.10 L680.40,373.50 L681.70,370.40 L682.40,369.00" fill="none" stroke="#e43c3c" stroke-width="0.8" stroke-linejoin="round"/>
<rect x="579.40" y="272.70" width="103.00" height="103.00" fill="none" stroke="#b4b4b4" stroke-width="1"/>
<line x1="579.40" y1="272.70" x2="579.40" y2="375.70" stroke="#8c8c8c" stroke-width="1"/>
<line x1="579.40" y1="331.34" x2="594.28" y2="331.34" stroke="#363636" stroke-width="0.75"/>
<line x1="594.28" y1="329.84" x2="594.28" y2="332.84" stroke="#363636" stroke-width="0.8"/>
<line x1="608.39" y1="331.34" x2="675.67" y2="331.34" stroke="#363636" stroke-width="0.75"/>
<line x1="608.39" y1="329.84" x2="608.39" y2="332.84" stroke="#363636" stroke-width="0.8"/>
<line x1="631.17" y1="329.64" x2="631.17" y2="333.04" stroke="#363636" stroke-width="1.2"/>
<line x1="644.85" y1="329.64" x2="644.85" y2="333.04" stroke="#363636" stroke-width="1.2"/>
<line x1="675.67" y1="329.84" x2="675.67" y2="332.84" stroke="#363636" stroke-width="0.8"/>
<text x="591.46" y="319.30" font-size="4.8" text-anchor="middle" fill="#151515">Apoptosis</text>
<text x="591.46" y="325.37" font-size="4.8" text-anchor="middle" fill="#151515">18.3</text>
<text x="619.24" y="319.73" font-size="4.8" text-anchor="middle" fill="#151515">G1</text>
<text x="618.80" y="325.59" font-size="4.8" text-anchor="middle" fill="#151515">27.9</text>
<text x="638.34" y="319.73" font-size="4.8" text-anchor="middle" fill="#151515">S</text>
<text x="637.69" y="325.59" font-size="4.8" text-anchor="middle" fill="#151515">17.9</text>
<text x="659.39" y="319.73" font-size="4.8" text-anchor="middle" fill="#151515">G2M</text>
<text x="658.74" y="325.59" font-size="4.8" text-anchor="middle" fill="#151515">29.0</text>
<path d="M579.40,490.70 L579.40,412.00 L580.20,405.00 L581.00,401.80 L581.70,405.00 L582.30,415.00 L582.70,430.10 L583.60,451.20 L584.80,468.00 L586.50,478.50 L588.60,483.80 L592.80,486.50 L597.00,487.60 L601.30,488.30 L604.00,489.10 L610.60,488.20 L621.40,487.80 L632.30,487.20 L643.10,487.20 L651.80,486.50 L660.50,486.10 L669.20,486.50 L675.70,487.20 L678.90,488.20 L680.50,485.80 L681.30,481.50 L682.40,477.00 L682.40,490.70 Z" fill="#ff9797" stroke="none"/>
<path d="M579.40,412.00 L580.20,405.00 L581.00,401.80 L581.70,405.00 L582.30,415.00 L582.70,430.10 L583.60,451.20 L584.80,468.00 L586.50,478.50 L588.60,483.80 L592.80,486.50 L597.00,487.60 L601.30,488.30 L604.00,489.10 L610.60,488.20 L621.40,487.80 L632.30,487.20 L643.10,487.20 L651.80,486.50 L660.50,486.10 L669.20,486.50 L675.70,487.20 L678.90,488.20 L680.50,485.80 L681.30,481.50 L682.40,477.00" fill="none" stroke="#e43c3c" stroke-width="0.8" stroke-linejoin="round"/>
<rect x="579.40" y="387.70" width="103.00" height="103.00" fill="none" stroke="#b4b4b4" stroke-width="1"/>
<line x1="579.40" y1="387.70" x2="579.40" y2="490.70" stroke="#8c8c8c" stroke-width="1"/>
<line x1="579.40" y1="446.34" x2="594.28" y2="446.34" stroke="#363636" stroke-width="0.75"/>
<line x1="594.28" y1="444.84" x2="594.28" y2="447.84" stroke="#363636" stroke-width="0.8"/>
<line x1="608.39" y1="446.34" x2="675.67" y2="446.34" stroke="#363636" stroke-width="0.75"/>
<line x1="608.39" y1="444.84" x2="608.39" y2="447.84" stroke="#363636" stroke-width="0.8"/>
<line x1="631.17" y1="444.64" x2="631.17" y2="448.04" stroke="#363636" stroke-width="1.2"/>
<line x1="644.85" y1="444.64" x2="644.85" y2="448.04" stroke="#363636" stroke-width="1.2"/>
<line x1="675.67" y1="444.84" x2="675.67" y2="447.84" stroke="#363636" stroke-width="0.8"/>
<text x="591.46" y="434.30" font-size="4.8" text-anchor="middle" fill="#151515">Apoptosis</text>
<text x="591.02" y="440.37" font-size="4.8" text-anchor="middle" fill="#151515">51.2</text>
<text x="619.24" y="434.73" font-size="4.8" text-anchor="middle" fill="#151515">G1</text>
<text x="618.80" y="440.59" font-size="4.8" text-anchor="middle" fill="#151515">9.82</text>
<text x="638.34" y="434.73" font-size="4.8" text-anchor="middle" fill="#151515">S</text>
<text x="636.60" y="440.59" font-size="4.8" text-anchor="middle" fill="#151515">7.38</text>
<text x="659.39" y="434.73" font-size="4.8" text-anchor="middle" fill="#151515">G2M</text>
<text x="658.74" y="440.59" font-size="4.8" text-anchor="middle" fill="#151515">22.6</text>
</g>
</svg>
</body></html>
